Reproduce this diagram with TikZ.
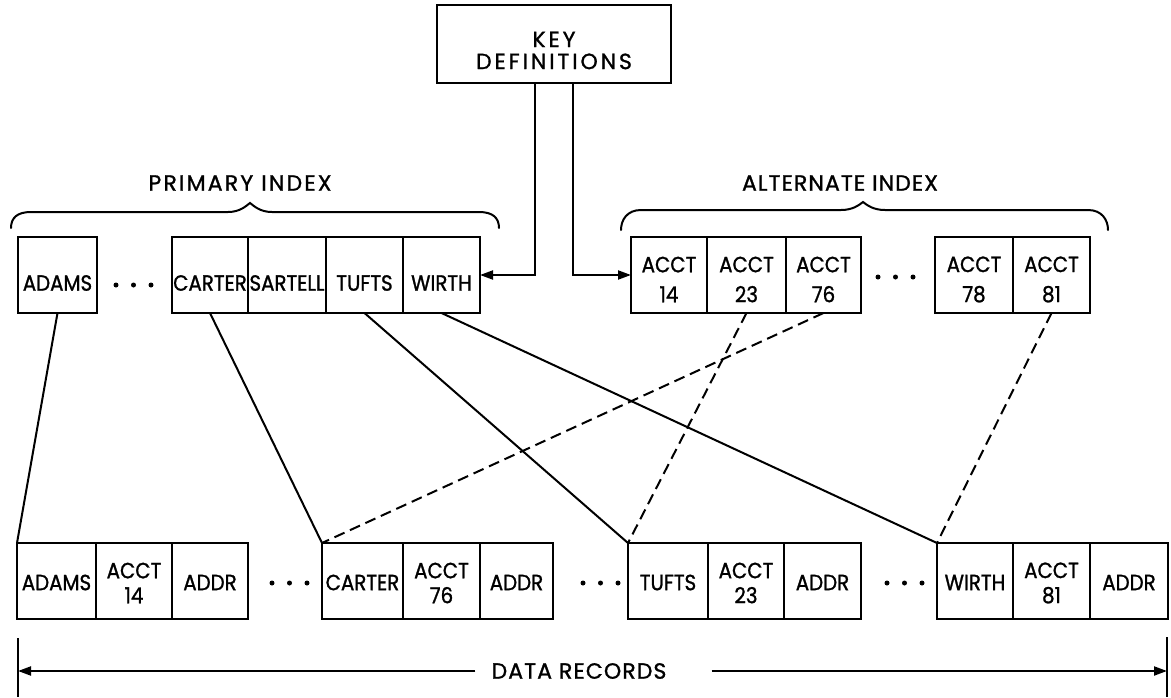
\documentclass[tikz,border=0pt]{standalone}
\usepackage{fontspec}
\setmainfont{Poppins}[FakeBold=1.2]
\newfontfamily\cellfont{Poppins}[FakeStretch=0.9, FakeBold=1.2]
\newfontfamily\wideA{Poppins}[LetterSpace=10, FakeBold=1.2]
\newfontfamily\wideB{Poppins}[LetterSpace=5, FakeBold=1.2]
\newfontfamily\wideK{Poppins}[LetterSpace=13, FakeBold=1.2]
\usetikzlibrary{arrows.meta,calc}

\tikzset{
  x=1pt, y=-1pt,
  cellbox/.style={draw, line width=2pt, inner sep=0pt, outer sep=0pt},
  celltext/.style={inner sep=0pt, align=center, font=\cellfont\fontsize{22}{30}\selectfont},
  datatext/.style={inner sep=0pt, align=center, font=\cellfont\fontsize{22}{25}\selectfont},
  keytext/.style={inner sep=0pt, align=center, font=\wideK\fontsize{22}{22}\selectfont},
  titletext/.style={inner sep=0pt, font=\wideA\fontsize{22}{24}\selectfont},
  titletextB/.style={inner sep=0pt, font=\wideB\fontsize{22}{24}\selectfont},
  link/.style={line width=2pt},
  dlink/.style={line width=2pt, dash pattern=on 11pt off 6pt},
  arr/.style={line width=2pt, -{Triangle[length=13pt,width=9pt]}},
  bracepath/.style={line width=2pt, line cap=round},
}

% a rectangular cell spanning x1..x2, y1..y2 with its caption node
% #1 name, #2 x1, #3 x2, #4 y1, #5 y2, #6 text style, #7 text shift, #8 text
\newcommand\mkcell[8]{%
  \node[cellbox, minimum width={(#3-#2)*1pt}, minimum height={(#5-#4)*1pt}]
    (#1) at ({(#2+#3)/2},{(#4+#5)/2}) {};
  \node[#6, yshift=#7] (#1t) at (#1) {#8};
}

% curly brace opening downward: x-left, x-tip, x-right, y-ends, y-flat, y-tip
\newcommand\topbrace[6]{%
  \draw[bracepath] (#1,#4) .. controls (#1,#4-10) and (#1+6,#5) .. (#1+20,#5)
    -- (#2-22,#5) .. controls (#2-10,#5) and (#2-4,#6+3) .. (#2,#6)
    .. controls (#2+4,#6+3) and (#2+10,#5) .. (#2+22,#5)
    -- (#3-20,#5) .. controls (#3-6,#5) and (#3,#4-10) .. (#3,#4);
}

\newcommand\threedots[2]{% x of the first dot, y ; spacing 17.5
  \foreach \k in {0,1,2} \fill ({#1+17.5*\k},#2) circle (2.5pt);
}

\begin{document}
\begin{tikzpicture}
\path[fill=white, use as bounding box] (0,0) rectangle (1171,697);

% key definitions
\mkcell{keydef}{437}{671}{5}{83}{keytext}{-6.5pt}{KEY\\DEFINITIONS}

% primary index
\node[titletext] (ptitle) at (240,183) {PRIMARY INDEX};
\topbrace{11}{250}{499}{228}{212}{203}
\mkcell{pAdams}{18}{97}{237}{313}{celltext}{-8pt}{ADAMS}
\threedots{116}{285}
\mkcell{pCarter}{172}{248}{237}{313}{celltext}{-8pt}{CARTER}
\mkcell{pSartell}{248}{326}{237}{313}{celltext}{-8pt}{SARTELL}
\mkcell{pTufts}{326}{403}{237}{313}{celltext}{-8pt}{TUFTS}
\mkcell{pWirth}{403}{480}{237}{313}{celltext}{-8pt}{WIRTH}

% alternate index
\node[titletextB] (atitle) at (840,183) {ALTERNATE INDEX};
\topbrace{621}{863}{1108}{230}{210}{202}
\mkcell{a14}{631}{707}{237}{313}{celltext}{-4.5pt}{ACCT\\14}
\mkcell{a23}{707}{786}{237}{313}{celltext}{-4.5pt}{ACCT\\23}
\mkcell{a76}{786}{861}{237}{313}{celltext}{-4.5pt}{ACCT\\76}
\threedots{878}{277}
\mkcell{a78}{935}{1013}{237}{313}{celltext}{-4.5pt}{ACCT\\78}
\mkcell{a81}{1013}{1090}{237}{313}{celltext}{-4.5pt}{ACCT\\81}

% data records
\mkcell{dAdams}{17}{96}{543}{619}{datatext}{-1.5pt}{ADAMS}
\mkcell{dAcctA}{96}{172}{543}{619}{datatext}{-2pt}{ACCT\\14}
\mkcell{dAddrA}{172}{248}{543}{619}{datatext}{-1.5pt}{ADDR}
\threedots{272}{583}
\mkcell{dCarter}{322}{403}{543}{619}{datatext}{-1.5pt}{CARTER}
\mkcell{dAcctB}{403}{480}{543}{619}{datatext}{-2pt}{ACCT\\76}
\mkcell{dAddrB}{480}{553}{543}{619}{datatext}{-1.5pt}{ADDR}
\threedots{583}{583}
\mkcell{dTufts}{628}{708}{543}{619}{datatext}{-1.5pt}{TUFTS}
\mkcell{dAcctC}{708}{784}{543}{619}{datatext}{-2pt}{ACCT\\23}
\mkcell{dAddrC}{784}{861}{543}{619}{datatext}{-1.5pt}{ADDR}
\threedots{887}{583}
\mkcell{dWirth}{937}{1013}{543}{619}{datatext}{-1.5pt}{WIRTH}
\mkcell{dAcctD}{1013}{1090}{543}{619}{datatext}{-2pt}{ACCT\\81}
\mkcell{dAddrD}{1090}{1168}{543}{619}{datatext}{-1.5pt}{ADDR}

% key definitions feed both indexes
\draw[arr] ([xshift=-19pt]keydef.south) |- (pWirth.east);
\draw[arr] ([xshift=19pt]keydef.south) |- (a14.west);

% primary index pointers (solid)
\draw[link] (pAdams.south) -- (dAdams.north west);
\draw[link] (pCarter.south) -- (dCarter.north west);
\draw[link] (pTufts.south) -- (dTufts.north west);
\draw[link] (pWirth.south) -- (dWirth.north west);

% alternate index pointers (dashed)
\draw[dlink] (a23.south) -- (dTufts.north west);
\draw[dlink] (a76.south) -- (dCarter.north west);
\draw[dlink] (a81.south) -- (dWirth.north west);

% extent of the data records
\coordinate (barLtop) at (18,638);
\coordinate (barLbot) at (18,697);
\coordinate (barRtop) at (1167,637);
\coordinate (barRbot) at (1167,697);
\draw[link] (barLtop) -- (barLbot);
\draw[link] (barRtop) -- (barRbot);
\node[titletextB] (recs) at (579,671) {DATA RECORDS};
\draw[arr] ([xshift=-16pt]recs.west) -- (barLtop |- recs.west);
\draw[arr] ([xshift=45pt]recs.east) -- (barRtop |- recs.east);
\end{tikzpicture}
\end{document}
